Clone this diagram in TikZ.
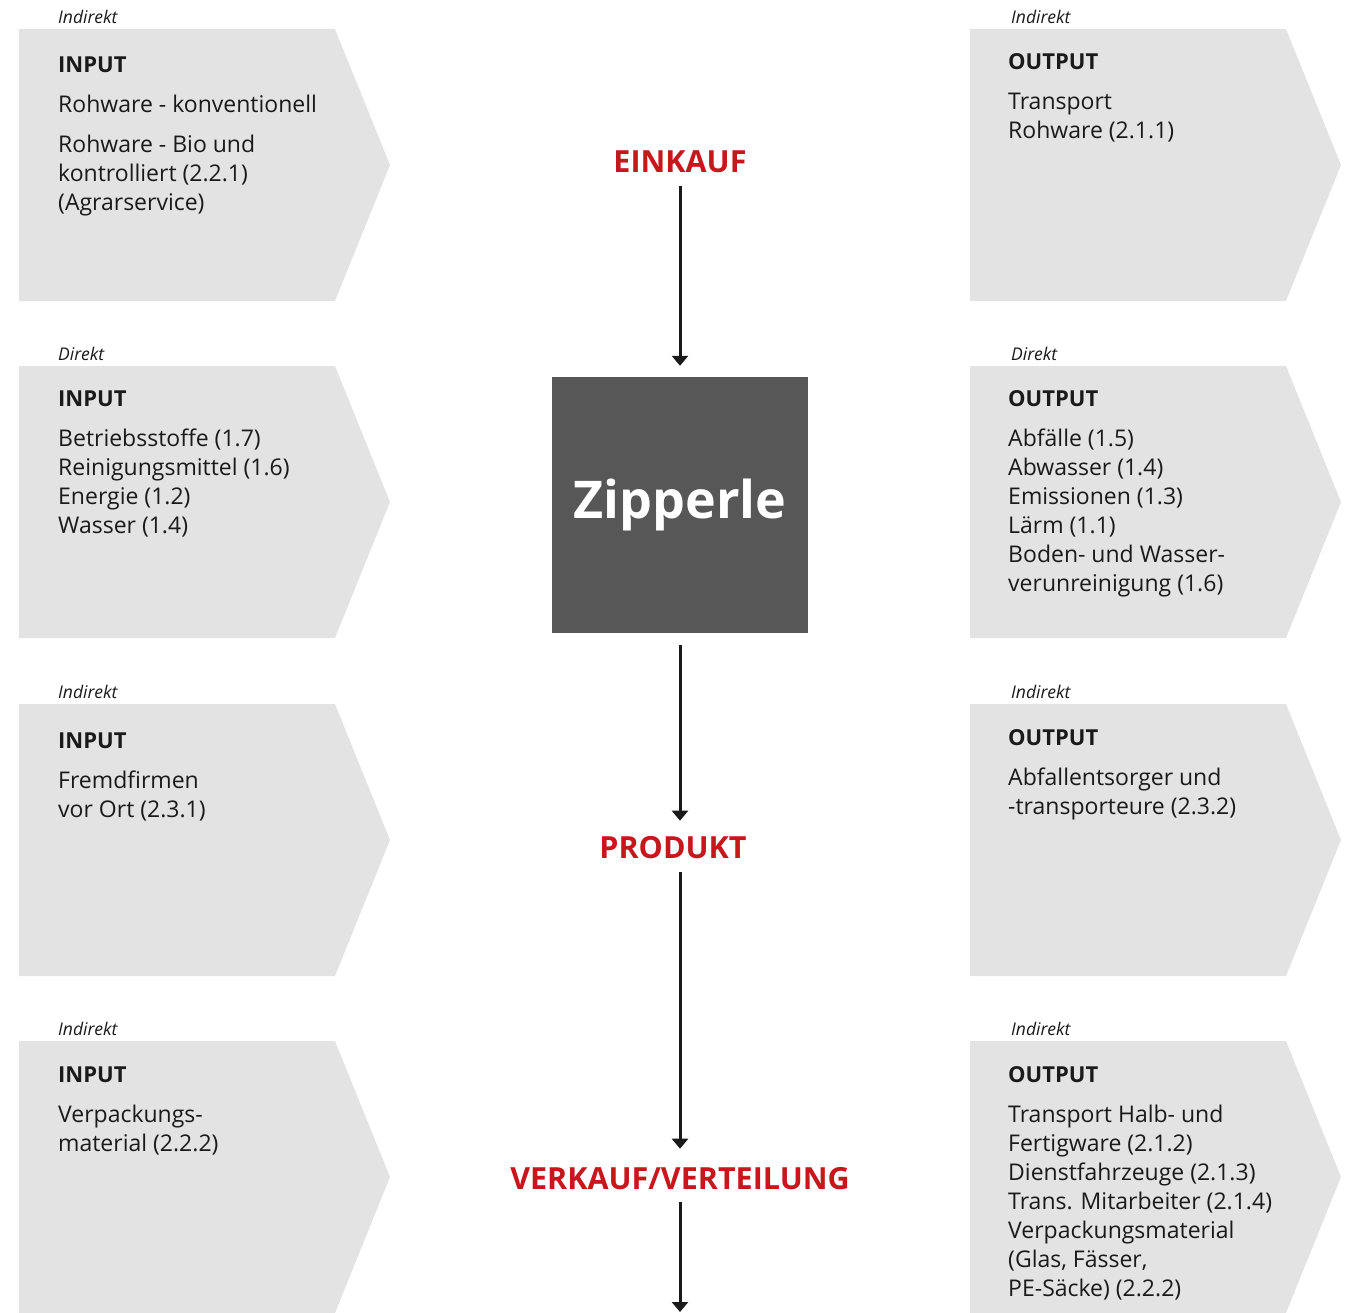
\documentclass[tikz,border=0pt]{standalone}
\usepackage{fontspec}
\setmainfont{Open Sans}
\usetikzlibrary{arrows.meta}
\definecolor{boxgray}{HTML}{E3E3E3}
\definecolor{zipgray}{HTML}{575757}
\definecolor{stagered}{HTML}{C8161D}
\definecolor{txt}{HTML}{1A1A1A}
\newcommand{\chev}[2]{\fill[boxgray] (#1,#2) -- ++(316,0) -- ++(55,136) -- ++(-55,136) -- ++(-316,0) -- cycle;}
\tikzset{
  kind/.style={font=\fontsize{17.5}{20}\selectfont\itshape, text=txt, inner sep=0pt, anchor=base west},
  body/.style={font=\fontsize{23}{29}\selectfont, text=txt, inner sep=0pt, anchor=north west, align=left},
  stage/.style={font=\fontsize{30.5}{34}\selectfont\bfseries, text=stagered, inner sep=0pt, anchor=base},
  flow/.style={line width=3pt, draw=txt, -{Triangle[width=16pt,length=10pt]}}
}
\newcommand{\ttl}[1]{\rule{0pt}{22pt}{\fontsize{22}{29}\selectfont\bfseries #1}\\[11pt]}
\begin{document}
\begin{tikzpicture}[x=1pt,y=-1pt]
\useasboundingbox (0,0) rectangle (1357,1312);
% chevrons
\chev{19}{29}\chev{19}{366}\chev{19}{704}\chev{19}{1041}
\chev{970}{29}\chev{970}{366}\chev{970}{704}\chev{970}{1041}
% kind labels
\node[kind] (k1) at (58,23) {Indirekt};
\node[kind] (k2) at (58,360) {Direkt};
\node[kind] (k3) at (58,698) {Indirekt};
\node[kind] (k4) at (58,1035) {Indirekt};
\node[kind] (k5) at (1011,23) {Indirekt};
\node[kind] (k6) at (1011,360) {Direkt};
\node[kind] (k7) at (1011,698) {Indirekt};
\node[kind] (k8) at (1011,1035) {Indirekt};
% left texts
\node[body] (in1) at (58,50) {\ttl{INPUT}Rohware - konventionell\\[11pt]Rohware - Bio und\\kontrolliert (2.2.1)\\(Agrarservice)};
\node[body] (in2) at (58,384) {\ttl{INPUT}Betriebsstoffe (1.7)\\Reinigungsmittel (1.6)\\Energie (1.2)\\Wasser (1.4)};
\node[body] (in3) at (58,726) {\ttl{INPUT}Fremdfirmen\\vor Ort (2.3.1)};
\node[body] (in4) at (58,1060) {\ttl{INPUT}Verpackungs-\\material (2.2.2)};
% right texts
\node[body] (out1) at (1008,47) {\ttl{OUTPUT}Transport\\Rohware (2.1.1)};
\node[body] (out2) at (1008,384) {\ttl{OUTPUT}Abfälle (1.5)\\Abwasser (1.4)\\Emissionen (1.3)\\Lärm (1.1)\\Boden- und Wasser-\\verunreinigung (1.6)};
\node[body] (out3) at (1008,723) {\ttl{OUTPUT}Abfallentsorger und\\-transporteure (2.3.2)};
\node[body] (out4) at (1008,1060) {\ttl{OUTPUT}Transport Halb- und\\Fertigware (2.1.2)\\Dienstfahrzeuge (2.1.3)\\Trans. Mitarbeiter (2.1.4)\\Verpackungsmaterial\\(Glas, Fässer,\\PE-Säcke) (2.2.2)};
% center
\node[stage] (einkauf) at (680,172) {EINKAUF};
\node[fill=zipgray, minimum width=256pt, minimum height=256pt, inner sep=0pt, text=white, font=\fontsize{52}{60}\selectfont\bfseries] (zip) at (680,505) {Zipperle};
\node[stage] (produkt) at (673,858) {PRODUKT};
\node[stage] (verkauf) at (680,1189) {VERKAUF/VERTEILUNG};
\coordinate (end) at (680,1312);
\draw[flow, shorten <=13pt, shorten >=11pt] (einkauf.south) -- (zip.north);
\draw[flow, shorten <=12pt, shorten >=15pt] (zip.south) -- (zip.south |- produkt.north);
\draw[flow, shorten <=13pt, shorten >=18pt] (zip.south |- produkt.south) -- (zip.south |- verkauf.north);
\draw[flow, shorten <=12pt] (zip.south |- verkauf.south) -- (end);
\end{tikzpicture}
\end{document}
